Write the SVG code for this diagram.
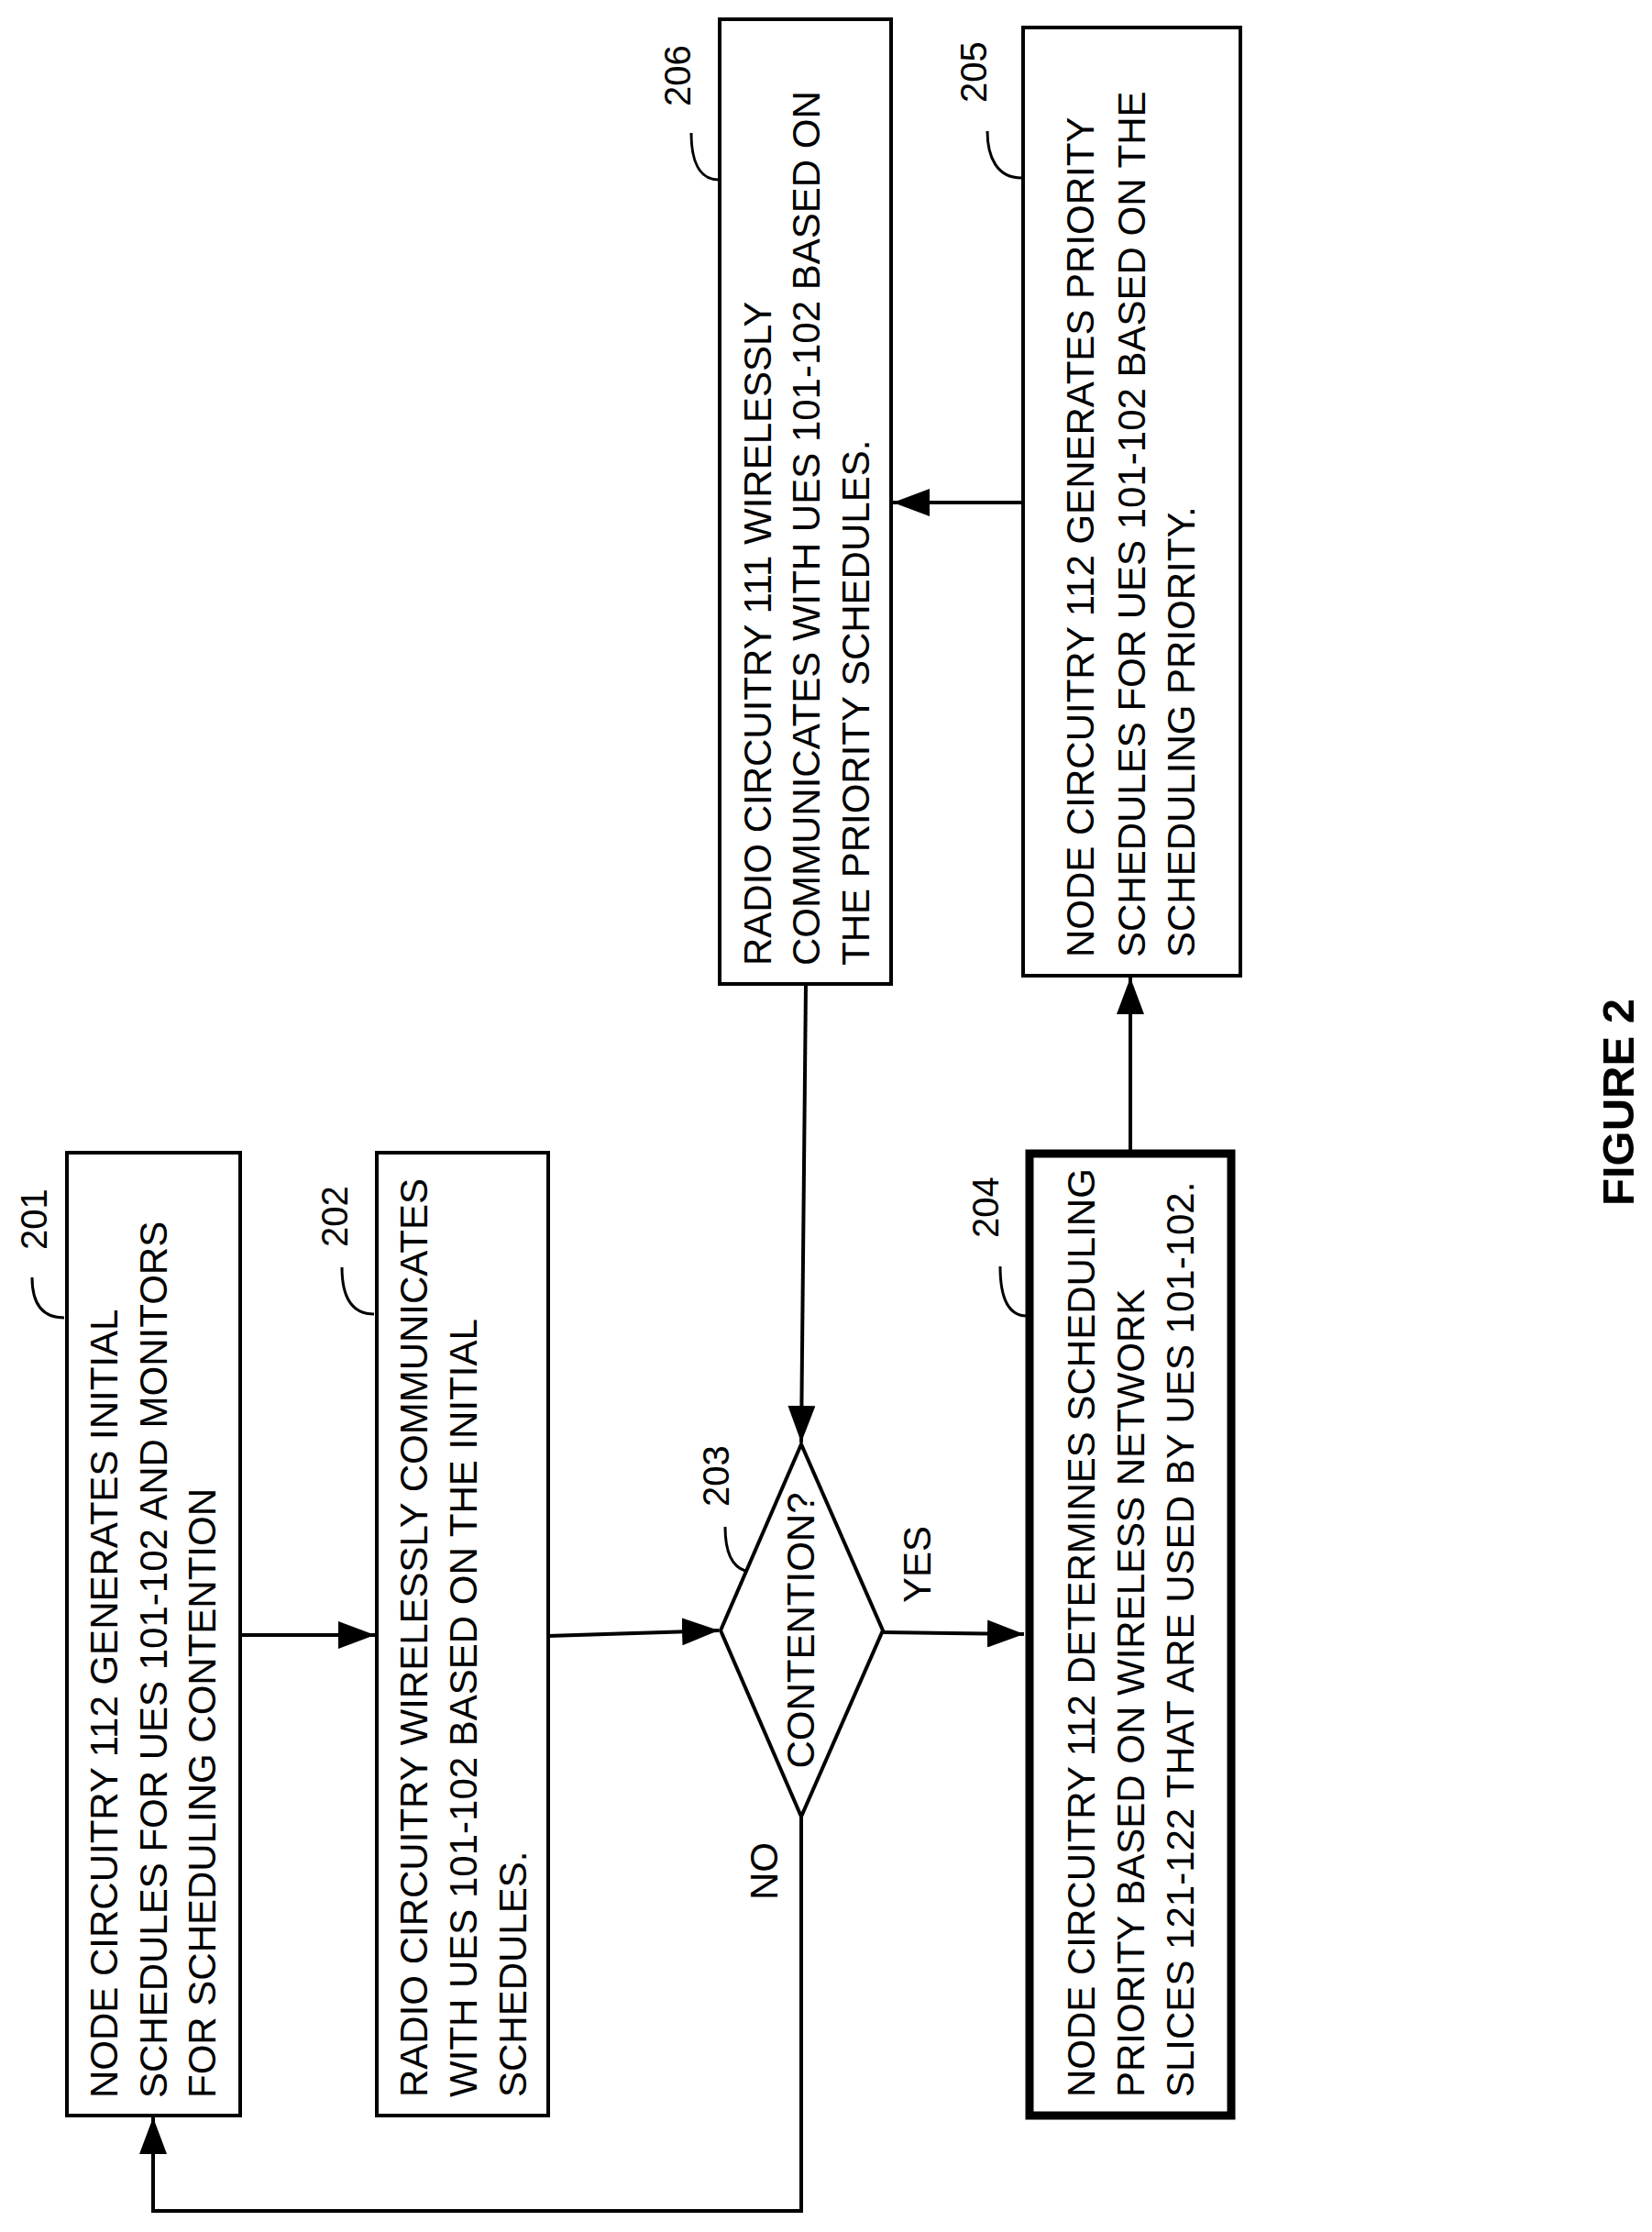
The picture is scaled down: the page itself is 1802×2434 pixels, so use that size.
<svg xmlns="http://www.w3.org/2000/svg" width="1802" height="2434" viewBox="0 0 1802 2434">
<style>
.box{fill:#fff;stroke:#000;stroke-width:4}
.thick{fill:#fff;stroke:#000;stroke-width:9}
.t{font-family:"Liberation Sans",Arial,sans-serif;font-size:42px;fill:#000}
.n{font-family:"Liberation Sans",Arial,sans-serif;font-size:40px;fill:#000}
.fig{font-family:"Liberation Sans",Arial,sans-serif;font-size:49px;font-weight:bold;fill:#000}
.c{fill:none;stroke:#000;stroke-width:4}
.lead{fill:none;stroke:#000;stroke-width:3}
</style>
<defs>
<marker id="ah" markerUnits="userSpaceOnUse" markerWidth="40" markerHeight="30" refX="40" refY="15" orient="auto">
<path d="M0,0 L40,15 L0,30 Z" fill="#000"/>
</marker>
</defs>
<rect width="1802" height="2434" fill="#fff"/>
<g id="connectors">
<path class="c" d="M262,1783 L409,1783" marker-end="url(#ah)"/>
<path class="c" d="M598,1784 L784,1778" marker-end="url(#ah)"/>
<path class="c" d="M963,1780 L1117,1782" marker-end="url(#ah)"/>
<path class="c" d="M1233,1254 L1233,1066" marker-end="url(#ah)"/>
<path class="c" d="M1116,548 L974,548" marker-end="url(#ah)"/>
<path class="c" d="M879,1073 L874,1573" marker-end="url(#ah)"/>
<path class="c" d="M874,1981 L874,2411 L167,2411 L167,2309" marker-end="url(#ah)"/>
<text class="t" transform="translate(1015,1748) rotate(-90)">YES</text>
<text class="t" transform="translate(848,2072) rotate(-90)">NO</text>
</g>
<g id="n201">
<rect class="box" x="73" y="1257" width="189" height="1050"/>
<text class="t" transform="translate(128,2288) rotate(-90)">NODE CIRCUITRY 112 GENERATES INITIAL</text>
<text class="t" transform="translate(182,2288) rotate(-90)">SCHEDULES FOR UES 101-102 AND MONITORS</text>
<text class="t" transform="translate(235,2288) rotate(-90)">FOR SCHEDULING CONTENTION</text>
<text class="n" transform="translate(51,1363) rotate(-90)">201</text>
<path class="lead" d="M35,1393 C35,1420 45,1437 70,1437"/>
</g>
<g id="n202">
<rect class="box" x="411" y="1257" width="187" height="1050"/>
<text class="t" transform="translate(466,2287) rotate(-90)">RADIO CIRCUITRY WIRELESSLY COMMUNICATES</text>
<text class="t" transform="translate(520,2287) rotate(-90)">WITH UES 101-102 BASED ON THE INITIAL</text>
<text class="t" transform="translate(574,2287) rotate(-90)">SCHEDULES.</text>
<text class="n" transform="translate(379,1360) rotate(-90)">202</text>
<path class="lead" d="M373,1382 C373,1412 382,1433 408,1433"/>
</g>
<g id="n203">
<polygon class="box" points="786,1778 874,1575 963,1778 874,1981"/>
<text class="t" text-anchor="middle" transform="translate(888,1778) rotate(-90)">CONTENTION?</text>
<text class="n" transform="translate(795,1643) rotate(-90)">203</text>
<path class="lead" d="M791,1665 C791,1690 797,1708 813,1713"/>
</g>
<g id="n204">
<rect class="thick" x="1123" y="1258" width="220" height="1049"/>
<text class="t" transform="translate(1194,2287) rotate(-90)">NODE CIRCUITRY 112 DETERMINES SCHEDULING</text>
<text class="t" transform="translate(1248,2287) rotate(-90)">PRIORITY BASED ON WIRELESS NETWORK</text>
<text class="t" transform="translate(1302,2287) rotate(-90)">SLICES 121-122 THAT ARE USED BY UES 101-102.</text>
<text class="n" transform="translate(1089,1350) rotate(-90)">204</text>
<path class="lead" d="M1091,1381 C1091,1412 1098,1435 1120,1435"/>
</g>
<g id="n205">
<rect class="box" x="1116" y="30" width="237" height="1034"/>
<text class="t" transform="translate(1193,1044) rotate(-90)">NODE CIRCUITRY 112 GENERATES PRIORITY</text>
<text class="t" transform="translate(1249,1044) rotate(-90)">SCHEDULES FOR UES 101-102 BASED ON THE</text>
<text class="t" transform="translate(1303,1044) rotate(-90)">SCHEDULING PRIORITY.</text>
<text class="n" transform="translate(1076,112) rotate(-90)">205</text>
<path class="lead" d="M1077,143 C1077,172 1088,194 1114,194"/>
</g>
<g id="n206">
<rect class="box" x="785" y="21" width="187" height="1052"/>
<text class="t" transform="translate(841,1053) rotate(-90)">RADIO CIRCUITRY 111 WIRELESSLY</text>
<text class="t" transform="translate(894,1053) rotate(-90)">COMMUNICATES WITH UES 101-102 BASED ON</text>
<text class="t" transform="translate(948,1053) rotate(-90)">THE PRIORITY SCHEDULES.</text>
<text class="n" transform="translate(753,116) rotate(-90)">206</text>
<path class="lead" d="M754,145 C754,174 762,196 784,196"/>
</g>
<text class="fig" transform="translate(1782,1315) rotate(-90)">FIGURE 2</text>
</svg>
